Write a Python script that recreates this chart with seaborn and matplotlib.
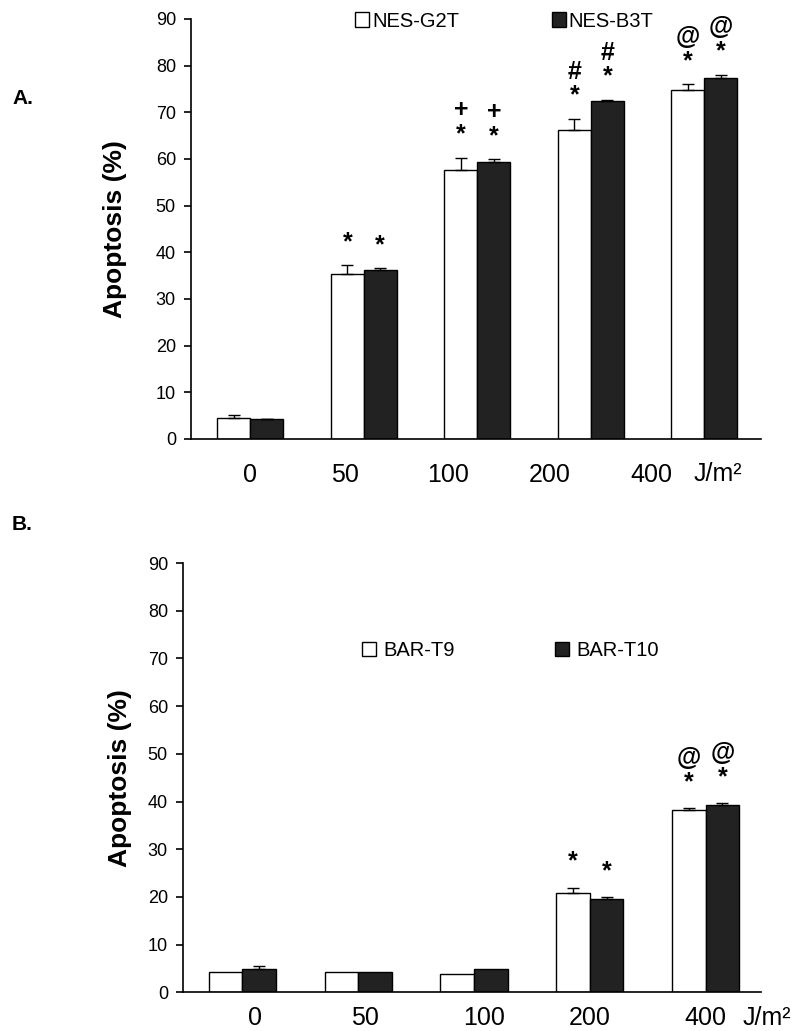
import pandas as pd
import matplotlib
matplotlib.use("Agg")
import matplotlib.pyplot as plt
import seaborn as sns

# doses (J/m2)
doses = ["0", "50", "100", "200", "400"]

# Panel A
lines_a = ["NES-G2T", "NES-B3T"]
g2t = [4.6, 35.3, 57.6, 66.2, 74.8]
g2t_err = [0.5, 1.9, 2.7, 2.4, 1.2]
b3t = [4.2, 36.3, 59.3, 72.4, 77.4]
b3t_err = [0.1, 0.3, 0.6, 0.3, 0.7]
stars_a = ["", "*", "*", "*", "*"]
marks_a = ["", "", "+", "#", "@"]

# Panel B
lines_b = ["BAR-T9", "BAR-T10"]
t9 = [4.2, 4.2, 3.8, 20.9, 38.3]
t9_err = [0.0, 0.0, 0.0, 1.0, 0.3]
t10 = [4.8, 4.2, 4.8, 19.6, 39.3]
t10_err = [0.8, 0.0, 0.0, 0.3, 0.3]
stars_b = ["", "", "", "*", "*"]
marks_b = ["", "", "", "", "@"]

sns.set_theme(style="ticks")
plt.rcParams["font.family"] = ["Liberation Sans", "DejaVu Sans"]
plt.rcParams["text.color"] = "black"
plt.rcParams["axes.labelcolor"] = "black"
plt.rcParams["xtick.color"] = "black"
plt.rcParams["ytick.color"] = "black"


def panel(ax, names, v1, e1, v2, e2, stars, marks, star_pad):
    df = pd.DataFrame({
        "dose": doses * 2,
        "value": v1 + v2,
        "line": [names[0]] * len(doses) + [names[1]] * len(doses),
    })
    sns.barplot(data=df, x="dose", y="value", hue="line", order=doses,
                hue_order=names, palette=["white", "#222222"],
                edgecolor="black", linewidth=1.0, width=0.58,
                errorbar=None, saturation=1, ax=ax)
    for cont, errs in zip(ax.containers, [e1, e2]):
        for bar, e, s, m in zip(cont, errs, stars, marks):
            cx = bar.get_x() + bar.get_width() / 2
            top = bar.get_height()
            if e > 0:
                ax.errorbar(cx, top, yerr=[[0], [e]], fmt="none", ecolor="black",
                            elinewidth=1.0, capsize=4, capthick=1.0)
            if s:
                label = m + "\n" + s if m else s
                ax.text(cx, top + e + star_pad, label, ha="center", va="bottom",
                        fontsize=18, fontweight="bold", linespacing=1.0,
                        multialignment="center")

    ax.set_ylim(0, 90)
    ax.set_yticks(range(0, 91, 10))
    sns.despine(ax=ax)
    for sp in ["left", "bottom"]:
        ax.spines[sp].set_linewidth(1.2)
        ax.spines[sp].set_color("black")
    ax.tick_params(axis="y", length=5, width=1.2, labelsize=13, pad=6)
    ax.set_xlabel("")
    ax.set_ylabel("Apoptosis (%)", fontsize=19, fontweight="bold")


fig = plt.figure(figsize=(8, 10.31), dpi=100)
ax_a = fig.add_axes([0.239, 0.5742, 0.7125, 0.4074])
ax_b = fig.add_axes([0.229, 0.0375, 0.7225, 0.4164])

panel(ax_a, lines_a, g2t, g2t_err, b3t, b3t_err, stars_a, marks_a, 2.4)
panel(ax_b, lines_b, t9, t9_err, t10, t10_err, stars_b, marks_b, 3.0)

# x labels (typed unevenly in the original)
ax_a.set_xlim(-0.52, 4.5)
ax_a.set_xticks([0, 0.83, 1.74, 2.64, 3.53], doses)
ax_a.tick_params(axis="x", length=0, labelsize=18, pad=17)
ax_a.text(4.12, -7.4, "J/m²", fontsize=18, ha="center", va="center")
ax_a.yaxis.set_label_coords(-0.112, 0.5)

ax_b.set_xlim(-0.51, 4.48)
ax_b.set_xticks([0.11, 1.06, 2.09, 3.0, 4.0], doses)
ax_b.tick_params(axis="x", length=0, labelsize=18, pad=10)
ax_b.text(4.53, -5.4, "J/m²", fontsize=18, ha="center", va="center", clip_on=False)
ax_b.yaxis.set_label_coords(-0.088, 0.5)

# legends
h, l = ax_a.get_legend_handles_labels()
ax_a.legend(h, l, loc="center left", bbox_to_anchor=(0.287, 0.995), ncol=2,
            frameon=False, fontsize=14.5, handlelength=0.7, handleheight=0.7,
            handletextpad=0.15, columnspacing=4.6, borderpad=0, borderaxespad=0)
h, l = ax_b.get_legend_handles_labels()
ax_b.legend(h, l, loc="center left", bbox_to_anchor=(0.309, 0.797), ncol=2,
            frameon=False, fontsize=14.5, handlelength=0.7, handleheight=0.7,
            handletextpad=0.35, columnspacing=5.0, borderpad=0, borderaxespad=0)

fig.text(0.015, 1 - 98 / 1031, "A.", fontsize=15, fontweight="bold", va="center")
fig.text(0.015, 1 - 525 / 1031, "B.", fontsize=15, fontweight="bold", va="center")

fig.savefig("out.png", dpi=100)
